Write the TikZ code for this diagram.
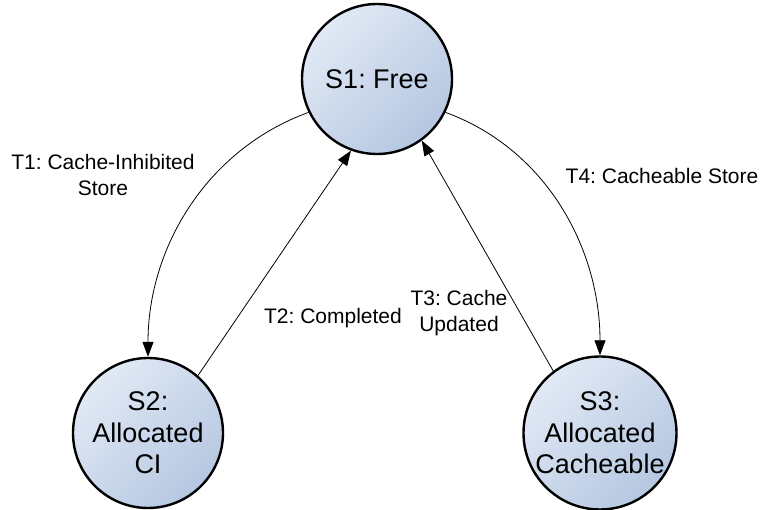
\documentclass[tikz,border=0pt]{standalone}
\usepackage{fontspec}
\setmainfont{Liberation Sans}
\usetikzlibrary{arrows.meta}
\definecolor{stlight}{HTML}{E1E9F5}
\definecolor{stdark}{HTML}{B5C7E1}
\tikzset{
  state/.style={circle, draw=black, line width=2.4pt, minimum size=150pt, inner sep=0pt,
    shading=axis, top color=stlight, bottom color=stdark, shading angle=45,
    align=center, font=\fontsize{27}{31.5}\selectfont},
  trans/.style={line width=0.8pt, -{Triangle[length=15pt,width=11pt]}},
  tlabel/.style={align=center, font=\fontsize{21}{26}\selectfont, inner sep=0pt}
}
\frenchspacing
\begin{document}
\begin{tikzpicture}[x=1pt,y=1pt]
\useasboundingbox (0,0) rectangle (764,-510);
\node[state] (s1) at (377,-79) {S1: Free};
\node[state] (s2) at (148,-433) {S2:\\Allocated\\CI};
\node[state] (s3) at (600,-433) {S3:\\Allocated\\Cacheable};
\draw[trans] (s1.206) to[out=200,in=90,looseness=0.95] (s2.90);
\draw[trans] (s1.334) to[out=-20,in=90,looseness=0.95] (s3.90);
\draw[trans] (s2.49) -- (s1.250);
\draw[trans] (s3.127) -- (s1.306);
\node[tlabel] (l1) at (103,-175) {T1: Cache-Inhibited\\Store};
\node[tlabel] (l2) at (333,-318) {T2: Completed};
\node[tlabel] (l3) at (459,-313) {T3: Cache\\Updated};
\node[tlabel] (l4) at (662,-176) {T4: Cacheable Store};
\end{tikzpicture}
\end{document}
